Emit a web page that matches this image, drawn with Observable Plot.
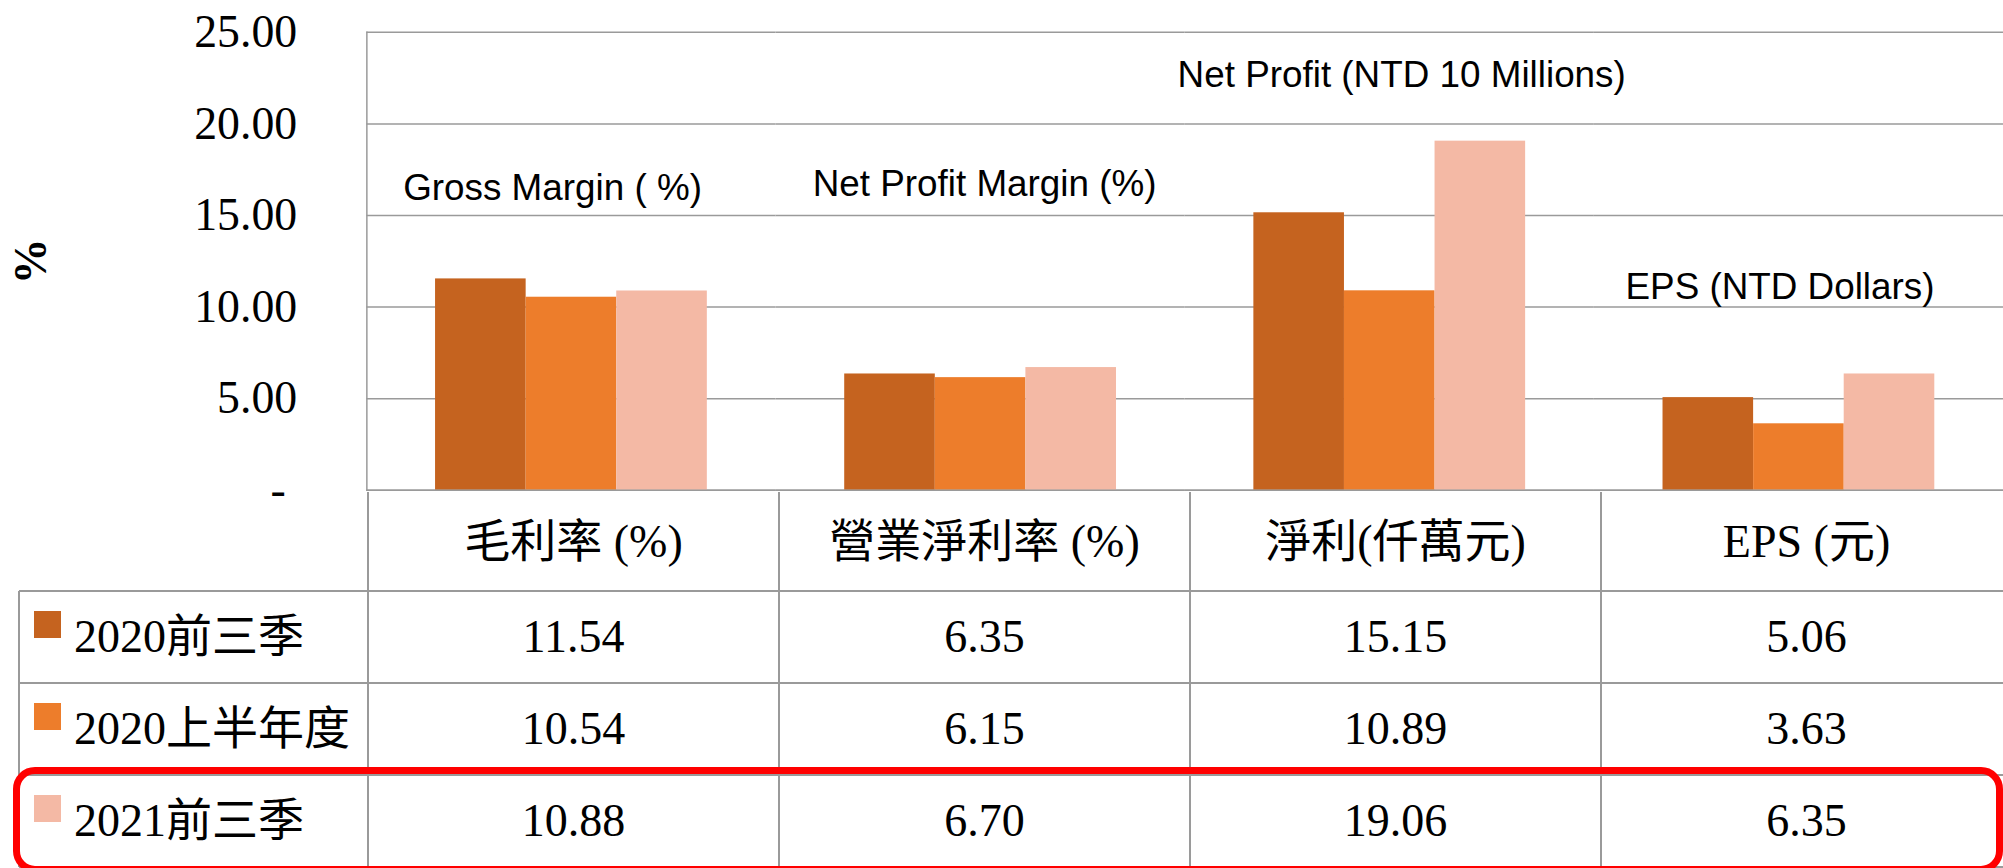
<!DOCTYPE html>
<html><head><meta charset="utf-8">
<script src="https://cdn.jsdelivr.net/npm/d3@7"></script>
<script src="https://cdn.jsdelivr.net/npm/@observablehq/plot@0.6"></script>
<style>
html,body{margin:0;padding:0;background:#fff;overflow:hidden;}
#wrap{position:relative;width:2003px;height:868px;overflow:hidden;}
#chart{position:absolute;left:0;top:0;}
.cell{position:absolute;display:flex;align-items:center;justify-content:center;font-family:'Liberation Serif','Noto Sans CJK TC',serif;font-size:46px;color:#000;white-space:nowrap;line-height:1;}
.cell.left{justify-content:flex-start;}
.line{position:absolute;background:#9a9a9a;}
.swatch{position:absolute;width:27px;height:27px;}
#highlight{position:absolute;border:7px solid #ff0000;border-radius:22px;box-sizing:border-box;}
g[aria-label="y-axis label"] text{font-weight:bold;}
</style></head>
<body><div id="wrap"><div id="chart"></div></div>
<script>
// ---- data ----
const categories = ["毛利率 (%)", "營業淨利率 (%)", "淨利(仟萬元)", "EPS (元)"];
const seriesNames = ["2020前三季", "2020上半年度", "2021前三季"];
const values2020Q3 = [11.54, 6.35, 15.15, 5.06];
const values2020H1 = [10.54, 6.15, 10.89, 3.63];
const values2021Q3 = [10.88, 6.70, 19.06, 6.35];
const seriesColors = ["#C5631F", "#ED7D2B", "#F4B9A5"];
const yTicks = [0, 5, 10, 15, 20, 25];
const englishLabels = ["Gross Margin ( %)", "Net Profit Margin (%)", "Net Profit (NTD 10 Millions)", "EPS (NTD Dollars)"];
const englishLabelLevels = [16.5, 16.7, 22.65, 11.1];

// ---- build ----
const seriesValues = [values2020Q3, values2020H1, values2021Q3];
const rows = [];
categories.forEach((c, i) => seriesNames.forEach((s, j) => rows.push({category: c, series: s, value: seriesValues[j][i]})));
const labelNudge = [-19, 4, 12, -19];
const serif = "'Liberation Serif','Noto Sans CJK TC',serif";
const grid = "#9a9a9a";

const plot = Plot.plot({
  width: 2012, height: 494,
  marginLeft: 368, marginRight: 0, marginTop: 32, marginBottom: 2,
  style: {fontFamily: serif, fontSize: "46px", color: "#000", background: "transparent", overflow: "visible"},
  fx: {domain: categories, padding: 0, axis: null},
  x: {domain: seriesNames, paddingInner: 0, paddingOuter: 0.75, axis: null},
  y: {domain: [0, 25]},
  color: {domain: seriesNames, range: seriesColors},
  marks: [
    Plot.ruleY(yTicks, {stroke: grid, strokeWidth: 1.5}),
    Plot.barY(rows, {fx: "category", x: "series", y: "value", fill: "series"}),
    Plot.ruleY([0], {stroke: grid, strokeWidth: 1.5}),
    Plot.axisY(yTicks, {tickSize: 0, tickPadding: 70, fontSize: 46,
      tickFormat: d => d === 0 ? "-\u00a0" : d.toFixed(2),
      label: "%", labelAnchor: "center", labelArrow: "none", labelOffset: 355}),
    ...englishLabels.map((t, i) => Plot.text([{category: categories[i], label: t, level: englishLabelLevels[i]}],
      {fx: "category", y: "level", text: "label", fontFamily: "'Liberation Sans', Arial, sans-serif", fontSize: 37, fill: "#000", dx: labelNudge[i]})),
    Plot.frame({anchor: "left", facetAnchor: "left", stroke: grid, strokeWidth: 1.5})
  ]
});
document.getElementById("chart").appendChild(plot);

// ---- data table below the plot, aligned to the fx scale ----
const wrap = document.getElementById("wrap");
const fx = plot.scale("fx");
const yS = plot.scale("y");
const band = fx.bandwidth;
const colLeft = categories.map(c => fx.apply(c));
const tableLeft = 19;
const tableRight = colLeft[colLeft.length - 1] + band;
const y0 = yS.apply(0);
const headerH = 99, rowH = 92;
const rowTops = [y0, y0 + headerH];
for (let k = 1; k < seriesNames.length; k++) rowTops.push(rowTops[rowTops.length - 1] + rowH);
const tableBottom = rowTops[rowTops.length - 1] + rowH;

function el(cls, css, text) {
  const d = document.createElement("div");
  d.className = cls;
  Object.assign(d.style, css);
  if (text != null) d.textContent = text;
  wrap.appendChild(d);
  return d;
}
// header row
categories.forEach((c, i) => el("cell", {left: colLeft[i] + "px", top: rowTops[0] + "px", width: band + "px", height: headerH + "px"}, c));
// data rows
seriesNames.forEach((s, j) => {
  const top = rowTops[j + 1];
  const rh = el("cell left", {left: tableLeft + "px", top: top + "px", width: (colLeft[0] - tableLeft) + "px", height: rowH + "px"});
  const sw = document.createElement("div");
  sw.className = "swatch";
  Object.assign(sw.style, {left: "15px", top: "20px", background: seriesColors[j]});
  rh.appendChild(sw);
  const tx = document.createElement("span");
  tx.style.marginLeft = "55px";
  tx.textContent = s;
  rh.appendChild(tx);
  categories.forEach((c, i) => el("cell", {left: colLeft[i] + "px", top: top + "px", width: band + "px", height: rowH + "px"}, seriesValues[j][i].toFixed(2)));
});
// table lines
const lw = 1.5;
for (let k = 1; k < rowTops.length; k++) el("line", {left: tableLeft + "px", top: (rowTops[k] - lw / 2) + "px", width: (tableRight - tableLeft) + "px", height: lw + "px"});
el("line", {left: tableLeft + "px", top: (tableBottom - lw / 2) + "px", width: (tableRight - tableLeft) + "px", height: lw + "px"});
el("line", {left: (tableLeft - lw / 2) + "px", top: rowTops[1] + "px", width: lw + "px", height: (tableBottom - rowTops[1]) + "px"});
colLeft.forEach(x => el("line", {left: (x - lw / 2) + "px", top: y0 + "px", width: lw + "px", height: (tableBottom - y0) + "px"}));
// highlight of the latest period
const hl = rowTops[rowTops.length - 1];
el("", {position: "absolute", left: "13px", top: (hl - 8) + "px", width: "1990px", height: (rowH + 14) + "px"}).id = "highlight";
</script>
</body></html>
